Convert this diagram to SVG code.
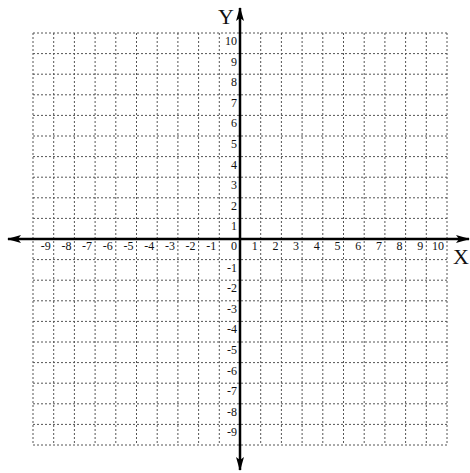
<svg xmlns="http://www.w3.org/2000/svg" width="470" height="473" viewBox="0 0 470 473">
<defs>
<style>
.grid line{stroke:#555;stroke-width:1;stroke-dasharray:2,2}
.axis{stroke:#000;stroke-width:2.5;fill:none}
.tx{font-family:"Liberation Serif",serif;font-size:12px;fill:#111;text-anchor:end}
.big{font-family:"Liberation Serif",serif;font-size:22px;fill:#111}
</style>
<marker id="ah" viewBox="0 0 14 8" refX="13" refY="4" markerWidth="14" markerHeight="8" markerUnits="userSpaceOnUse" orient="auto-start-reverse">
<path d="M0,0 L14,4 L0,8 L3,4 Z" fill="#000"/>
</marker>
</defs>
<rect width="470" height="473" fill="#fff"/>
<g id="grid" class="grid">
<line x1="33" y1="33" x2="33" y2="445"/>
<line x1="53.7" y1="33" x2="53.7" y2="445"/>
<line x1="74.4" y1="33" x2="74.4" y2="445"/>
<line x1="95.1" y1="33" x2="95.1" y2="445"/>
<line x1="115.8" y1="33" x2="115.8" y2="445"/>
<line x1="136.5" y1="33" x2="136.5" y2="445"/>
<line x1="157.2" y1="33" x2="157.2" y2="445"/>
<line x1="177.9" y1="33" x2="177.9" y2="445"/>
<line x1="198.6" y1="33" x2="198.6" y2="445"/>
<line x1="219.3" y1="33" x2="219.3" y2="445"/>
<line x1="260.7" y1="33" x2="260.7" y2="445"/>
<line x1="281.4" y1="33" x2="281.4" y2="445"/>
<line x1="302.1" y1="33" x2="302.1" y2="445"/>
<line x1="322.8" y1="33" x2="322.8" y2="445"/>
<line x1="343.5" y1="33" x2="343.5" y2="445"/>
<line x1="364.2" y1="33" x2="364.2" y2="445"/>
<line x1="384.9" y1="33" x2="384.9" y2="445"/>
<line x1="405.6" y1="33" x2="405.6" y2="445"/>
<line x1="426.3" y1="33" x2="426.3" y2="445"/>
<line x1="447" y1="33" x2="447" y2="445"/>
<line x1="33" y1="33" x2="447" y2="33"/>
<line x1="33" y1="53.6" x2="447" y2="53.6"/>
<line x1="33" y1="74.2" x2="447" y2="74.2"/>
<line x1="33" y1="94.8" x2="447" y2="94.8"/>
<line x1="33" y1="115.4" x2="447" y2="115.4"/>
<line x1="33" y1="136" x2="447" y2="136"/>
<line x1="33" y1="156.6" x2="447" y2="156.6"/>
<line x1="33" y1="177.2" x2="447" y2="177.2"/>
<line x1="33" y1="197.8" x2="447" y2="197.8"/>
<line x1="33" y1="218.4" x2="447" y2="218.4"/>
<line x1="33" y1="259.6" x2="447" y2="259.6"/>
<line x1="33" y1="280.2" x2="447" y2="280.2"/>
<line x1="33" y1="300.8" x2="447" y2="300.8"/>
<line x1="33" y1="321.4" x2="447" y2="321.4"/>
<line x1="33" y1="342" x2="447" y2="342"/>
<line x1="33" y1="362.6" x2="447" y2="362.6"/>
<line x1="33" y1="383.2" x2="447" y2="383.2"/>
<line x1="33" y1="403.8" x2="447" y2="403.8"/>
<line x1="33" y1="424.4" x2="447" y2="424.4"/>
<line x1="33" y1="445" x2="447" y2="445"/>
</g>
<g id="axes">
<line class="axis" x1="8" y1="239" x2="469" y2="239" marker-start="url(#ah)" marker-end="url(#ah)"/>
<line class="axis" x1="240" y1="8" x2="240" y2="470" marker-start="url(#ah)" marker-end="url(#ah)"/>
</g>
<g id="x-labels">
<text class="tx" x="50.7" y="250">-9</text>
<text class="tx" x="71.4" y="250">-8</text>
<text class="tx" x="92.1" y="250">-7</text>
<text class="tx" x="112.8" y="250">-6</text>
<text class="tx" x="133.5" y="250">-5</text>
<text class="tx" x="154.2" y="250">-4</text>
<text class="tx" x="174.9" y="250">-3</text>
<text class="tx" x="195.6" y="250">-2</text>
<text class="tx" x="216.3" y="250">-1</text>
<text class="tx" x="237" y="250">0</text>
<text class="tx" x="257.7" y="250">1</text>
<text class="tx" x="278.4" y="250">2</text>
<text class="tx" x="299.1" y="250">3</text>
<text class="tx" x="319.8" y="250">4</text>
<text class="tx" x="340.5" y="250">5</text>
<text class="tx" x="361.2" y="250">6</text>
<text class="tx" x="381.9" y="250">7</text>
<text class="tx" x="402.6" y="250">8</text>
<text class="tx" x="423.3" y="250">9</text>
<text class="tx" x="444" y="250">10</text>
</g>
<g id="y-labels">
<text class="tx" x="237" y="45">10</text>
<text class="tx" x="237" y="65.6">9</text>
<text class="tx" x="237" y="86.2">8</text>
<text class="tx" x="237" y="106.8">7</text>
<text class="tx" x="237" y="127.4">6</text>
<text class="tx" x="237" y="148">5</text>
<text class="tx" x="237" y="168.6">4</text>
<text class="tx" x="237" y="189.2">3</text>
<text class="tx" x="237" y="209.8">2</text>
<text class="tx" x="237" y="230.4">1</text>
<text class="tx" x="237" y="271.6">-1</text>
<text class="tx" x="237" y="292.2">-2</text>
<text class="tx" x="237" y="312.8">-3</text>
<text class="tx" x="237" y="333.4">-4</text>
<text class="tx" x="237" y="354">-5</text>
<text class="tx" x="237" y="374.6">-6</text>
<text class="tx" x="237" y="395.2">-7</text>
<text class="tx" x="237" y="415.8">-8</text>
<text class="tx" x="237" y="436.4">-9</text>
</g>
<g id="axis-titles">
<text class="big" x="218" y="24">Y</text>
<text class="big" x="453" y="264">X</text>
</g>
</svg>
